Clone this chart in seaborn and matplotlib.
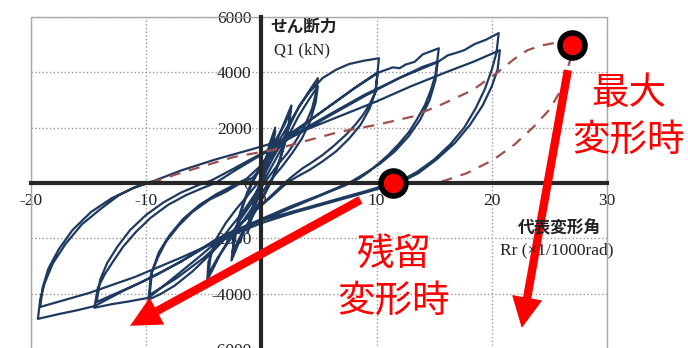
import matplotlib
matplotlib.use('Agg')
import matplotlib.pyplot as plt
import seaborn as sns
import pandas as pd
from matplotlib.patches import Rectangle

# --- 荷重-変形関係 (Rr: x1/1000rad, Q1: kN) を振幅ごとに読み取り ---
amp1_r = [0.0, 0.3, 0.7, 1.2, 1.0, 0.6, 0.2, -0.3, -0.8, -1.2, -1.0, -0.6, -0.2, 0.3, 0.8, 1.2,
          1.0, 0.5, 0.0, -0.5, -1.0, -1.2, -0.9, -0.4]
amp1_q = [0, 700, 1400, 2000, 1500, 800, 200, -500, -1200, -1800, -1300, -700, -100, 500, 1300, 1900,
          1400, 700, 100, -600, -1300, -1700, -1100, -300]

amp2_r = [0.2, 0.8, 1.4, 2.0, 2.6, 2.4, 2.0, 1.5, 0.9, 0.3, -0.5, -1.3, -2.0, -2.6, -2.4, -2.0, -1.5,
          -0.9, -0.3, 0.5, 1.3, 2.0, 2.5, 2.3, 1.8, 1.2, 0.5, -0.3, -1.1, -1.8, -2.5, -2.3, -1.8, -1.2, -0.5]
amp2_q = [300, 1000, 1600, 2200, 2800, 2100, 1400, 700, 100, -400, -1000, -1600, -2200, -2800, -2100, -1400, -700,
          -100, 400, 1000, 1600, 2100, 2600, 1900, 1100, 400, -200, -800, -1400, -1900, -2500, -1800, -1000, -300, 300]

amp5_r = [0.3, 1.2, 2.2, 3.2, 4.1, 4.9, 4.7, 4.4, 3.8, 3.1, 2.3, 1.5, 0.6, 0.0, -0.8, -1.8, -2.8, -3.6,
          -4.2, -4.7, -4.6, -4.2, -3.4, -2.5, -1.6, -0.8, -0.1, 0.5, 1.3, 2.2, 3.2, 4.1, 4.9, 4.7, 4.2, 3.5,
          2.7, 1.8, 0.9, 0.2, -0.8, -1.8, -2.8, -3.8, -4.6, -4.4, -3.9, -3.1, -2.2, -1.3, -0.5, 0.3]
amp5_q = [800, 1300, 2000, 2700, 3300, 3790, 3200, 2700, 2100, 1600, 1100, 700, 200, -150, -700, -1300, -2000, -2600,
          -3100, -3500, -2850, -2400, -1990, -1500, -1050, -550, -100, 300, 900, 1600, 2400, 3000, 3500, 2900, 2200, 1600,
          1100, 600, 150, -250, -900, -1500, -2100, -2700, -3300, -2600, -2000, -1450, -950, -500, -100, 350]

amp10_r = [1.0, 1.8, 2.6, 3.3, 4.2, 5.3, 6.5, 7.6, 8.9, 10.2,
           10.0, 9.9, 9.4, 8.8, 8.1, 7.3, 6.3, 5.3, 4.4, 3.6, 2.8, 2.1,
           1.0, -0.3, -1.6, -2.8, -4.5, -6.0, -7.5, -8.7, -9.8,
           -9.6, -9.0, -8.3, -7.2, -6.0, -4.5, -3.1, -2.0, -0.8,
           0.2, 1.2, 2.3, 4.3, 6.3, 8.3, 10.1,
           9.9, 9.4, 8.6, 7.6, 6.5, 5.3, 4.2, 3.1, 2.2,
           1.0, -0.4, -1.7, -3.0, -5.0, -7.4, -9.7,
           -9.5, -8.9, -8.0, -6.8, -5.4, -3.9, -2.5, -1.3]
amp10_q = [900, 1500, 2200, 2800, 3300, 3790, 4100, 4300, 4420, 4510,
           3700, 3290, 2850, 2450, 2080, 1730, 1350, 1010, 750, 540, 280, 40,
           -400, -900, -1400, -1850, -2600, -3200, -3700, -4000, -4220,
           -3320, -2700, -2130, -1550, -1050, -600, -320, -50, 180,
           600, 1100, 1730, 2300, 2900, 3500, 4000,
           3300, 2700, 2100, 1600, 1150, 780, 480, 230, 0,
           -450, -950, -1450, -1950, -2700, -3450, -4040,
           -3200, -2500, -1900, -1300, -800, -400, -100, 150]

amp15_r = [0.0, 1.3, 2.5, 4.0, 6.0, 8.0, 10.2, 11.4, 12.0, 12.5, 13.3, 14.0, 15.4,
           15.2, 15.1, 14.7, 14.2, 13.5, 12.8, 11.9, 11.0, 10.1, 9.3, 8.5, 7.3,
           6.0, 4.0, 2.0, 0.0, -2.0, -3.5, -5.5, -8.0, -9.8, -11.5, -13.0, -14.5,
           -14.2, -13.6, -12.9, -12.0, -10.9, -9.6, -8.1, -6.6, -5.1, -4.0,
           -2.5, -0.5, 1.0, 3.2, 6.0, 9.0, 12.0, 15.3,
           15.1, 14.6, 13.8, 12.8, 11.6, 10.3, 9.0, 7.8, 7.0,
           5.0, 2.5, 0.0, -2.5, -4.0, -7.0, -10.5, -14.3,
           -14.0, -13.4, -12.5, -11.4, -10.0, -8.5, -7.0, -5.5, -4.3]
amp15_q = [650, 1200, 1700, 2200, 2800, 3400, 4000, 4180, 4150, 4280, 4380, 4650, 4870,
           4200, 3900, 3350, 2820, 2300, 1840, 1400, 1010, 680, 400, 170, -80,
           -300, -650, -1000, -1350, -1700, -2000, -2700, -3550, -4150, -4280, -4380, -4510,
           -3790, -3300, -2850, -2300, -1770, -1250, -790, -450, -180, 0,
           400, 900, 1250, 1840, 2500, 3200, 3800, 4370,
           3700, 3000, 2300, 1700, 1150, 700, 350, 50, -100,
           -450, -850, -1300, -1750, -2050, -2850, -3600, -4300,
           -3500, -2900, -2300, -1700, -1150, -700, -350, -80, 100]

amp20_r = [-2.5, -0.5, 1.5, 3.5, 6.0, 9.0, 12.0, 14.0, 15.4, 16.2, 16.8, 17.6, 18.5, 19.5, 20.6,
           20.4, 20.0, 19.4, 18.6, 17.6, 16.4, 15.0, 13.5, 12.4, 11.4,
           9.0, 6.0, 3.0, 0.0, -3.0, -6.0, -9.0, -12.0, -14.5, -16.0, -17.5, -19.4,
           -19.2, -18.8, -18.1, -17.0, -15.6, -14.0, -12.4, -11.0, -9.8,
           -7.0, -4.0, -1.0, 1.5, 4.0, 7.0, 10.0, 13.0, 16.0, 18.5, 20.7,
           20.5, 20.0, 19.2, 18.1, 16.8, 15.2, 13.6, 12.2,
           9.0, 6.0, 3.0, 0.0, -3.0, -7.0, -11.0, -15.0, -19.2,
           -19.0, -18.5, -17.6, -16.4, -14.8, -13.0, -11.2, -9.6]
amp20_q = [500, 950, 1400, 1850, 2450, 3150, 3800, 4200, 4400, 4620, 4690, 4800, 5020, 5180, 5420,
           4700, 4100, 3400, 2700, 2000, 1400, 850, 400, 150, 0,
           -300, -650, -1000, -1350, -1850, -2600, -3300, -3900, -4450, -4600, -4730, -4910,
           -4200, -3600, -2900, -2200, -1500, -950, -450, -150, 0,
           450, 850, 1200, 1500, 1950, 2450, 2950, 3500, 4000, 4400, 4800,
           4100, 3500, 2800, 2100, 1450, 850, 350, 50,
           -350, -700, -1050, -1450, -1950, -2700, -3400, -3980, -4480,
           -3800, -3100, -2400, -1700, -1050, -550, -200, 50]

# 破線 (最大変形時の経路)
dash_r = [-9.6, -7.5, -5.3, -2.4, 0.0, 1.0, 3.3, 6.7, 10.2, 13.1, 15.7, 18.3, 20.5, 22.0,
          23.1, 24.2, 25.3, 26.2, 27.0, 26.8, 26.4, 26.0, 25.0, 23.6, 22.0, 20.1, 17.8, 15.3]
dash_q = [0, 300, 580, 940, 1120, 1190, 1460, 1840, 2120, 2400, 2850, 3350, 4000, 4500,
          4800, 4960, 5050, 5050, 4980, 4440, 3900, 3360, 2650, 2020, 1400, 830, 350, 0]

# 注目点 (最大変形時, 残留変形時)
point_r = [27.0, 11.4]
point_q = [4980, 0]

x_ticks = [-20, -10, 0, 10, 20, 30]
y_ticks = [-6000, -4000, -2000, 0, 2000, 4000, 6000]

loops = pd.DataFrame({
    'Rr': amp1_r + amp2_r + amp5_r + amp10_r + amp15_r + amp20_r,
    'Q1': amp1_q + amp2_q + amp5_q + amp10_q + amp15_q + amp20_q,
})
skeleton = pd.DataFrame({'Rr': dash_r, 'Q1': dash_q})
points = pd.DataFrame({'Rr': point_r, 'Q1': point_q})

sns.set_style('white')
plt.rcParams['font.family'] = ['Noto Sans CJK JP', 'DejaVu Sans']
plt.rcParams['axes.unicode_minus'] = False

fig = plt.figure(figsize=(6.88, 3.48), dpi=100)
ax = fig.add_axes([0.0451, -0.0029, 0.8372, 0.954])

sns.lineplot(data=loops, x='Rr', y='Q1', sort=False, estimator=None,
             color='#1f3a60', lw=1.6, ax=ax, zorder=3)
sns.lineplot(data=skeleton, x='Rr', y='Q1', sort=False, estimator=None,
             color='#a0504a', lw=1.6, ax=ax, zorder=4, dashes=False)
ax.lines[-1].set_dashes([5, 4])
ax.plot(points['Rr'], points['Q1'], 'o', ms=18, mfc='#ff0000', mec='black',
        mew=4, zorder=6, clip_on=False)

ax.set_xlim(-20, 30)
ax.set_ylim(-6000, 6000)
ax.set_xticks(x_ticks)
ax.set_yticks(y_ticks)
ax.set_xticklabels([str(t) for t in x_ticks])
ax.set_yticklabels([str(t) for t in y_ticks])
ax.set_xlabel('')
ax.set_ylabel('')

# 軸は原点を通る太線
for side in ['top', 'right']:
    ax.spines[side].set_visible(False)
ax.spines['left'].set_position(('data', 0))
ax.spines['bottom'].set_position(('data', 0))
ax.spines['left'].set_linewidth(3)
ax.spines['bottom'].set_linewidth(3)
ax.spines['left'].set_zorder(5)
ax.spines['bottom'].set_zorder(5)
ax.add_patch(Rectangle((0, 0), 1, 1, transform=ax.transAxes, fill=False,
                       edgecolor='#a8a8a8', lw=1, zorder=1, clip_on=False))

ax.grid(True, color='#9a9a9a', linestyle=':', lw=1)
ax.tick_params(direction='out', length=5, width=1.5, labelsize=12.5,
               labelcolor='#222222', pad=2)
for lab in ax.get_xticklabels() + ax.get_yticklabels():
    lab.set_fontfamily('Liberation Serif')

# 軸ラベル
fig.text(270 / 688, 1 - 27 / 348, 'せん断力', fontsize=12, fontweight='bold',
         ha='left', va='center', color='#222222')
fig.text(274 / 688, 1 - 50 / 348, 'Q1 (kN)', fontsize=12, family='Liberation Serif',
         ha='left', va='center', color='#222222')
fig.text(518 / 688, 1 - 228 / 348, '代表変形角', fontsize=12, fontweight='bold',
         ha='left', va='center', color='#222222')
fig.text(500 / 688, 1 - 250 / 348, 'Rr (×1/1000rad)', fontsize=12.5, family='Liberation Serif',
         ha='left', va='center', color='#222222')

# 注記テキストと矢印
fig.text(629 / 688, 1 - 117 / 348, '最大\n変形時', fontsize=27, color='#ff0000',
         ha='center', va='center', linespacing=1.25)
fig.text(394 / 688, 1 - 278 / 348, '残留\n変形時', fontsize=27, color='#ff0000',
         ha='center', va='center', linespacing=1.25)

arrow_style = 'simple,head_length=1.1,head_width=1.1,tail_width=0.3'
ax.annotate('', xy=(-11.4, -5160), xytext=(8.6, -610),
            arrowprops=dict(arrowstyle=arrow_style, color='#ff0000', lw=0,
                            mutation_scale=20, shrinkA=0, shrinkB=0),
            annotation_clip=False, zorder=7)
ax.annotate('', xy=(22.6, -5235), xytext=(26.6, 4080),
            arrowprops=dict(arrowstyle=arrow_style, color='#ff0000', lw=0,
                            mutation_scale=20, shrinkA=0, shrinkB=0),
            annotation_clip=False, zorder=7)

fig.savefig('out.png', dpi=100)
